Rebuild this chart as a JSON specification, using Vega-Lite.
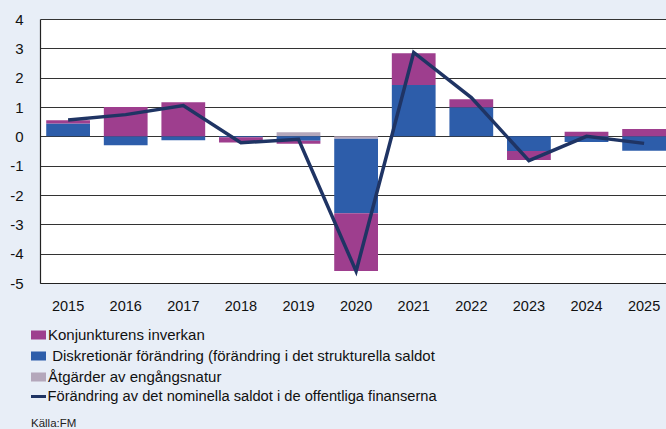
{
  "$schema": "https://vega.github.io/schema/vega-lite/v6.json",
  "width": 626,
  "height": 264,
  "autosize": {"type": "none"},
  "padding": {"left": 40, "top": 19, "right": 0, "bottom": 146},
  "background": "#E8EEF7",
  "config": {"view": {"fill": "white", "stroke": null}, "font": "Liberation Sans"},
  "title": {"text": "Källa:FM", "orient": "bottom", "anchor": "start", "frame": "group", "dx": -9, "offset": 14.5, "fontSize": 11.5, "fontWeight": "normal", "color": "#222", "baseline": "top"},
  "datasets": {
    "bars": [
      {"year": "2015", "component": "\u200b Diskretionär förändring (förändring i det strukturella saldot", "rank": 2, "value": 0.44},
      {"year": "2015", "component": "Konjunkturens inverkan", "rank": 3, "value": 0.11},
      {"year": "2016", "component": "\u200b Diskretionär förändring (förändring i det strukturella saldot", "rank": 2, "value": -0.3},
      {"year": "2016", "component": "Konjunkturens inverkan", "rank": 3, "value": 1.0},
      {"year": "2017", "component": "\u200b Diskretionär förändring (förändring i det strukturella saldot", "rank": 2, "value": -0.13},
      {"year": "2017", "component": "Konjunkturens inverkan", "rank": 3, "value": 1.16},
      {"year": "2018", "component": "\u200b Diskretionär förändring (förändring i det strukturella saldot", "rank": 2, "value": -0.03},
      {"year": "2018", "component": "Konjunkturens inverkan", "rank": 3, "value": -0.18},
      {"year": "2019", "component": "Åtgärder av engångsnatur", "rank": 1, "value": 0.14},
      {"year": "2019", "component": "\u200b Diskretionär förändring (förändring i det strukturella saldot", "rank": 2, "value": -0.15},
      {"year": "2019", "component": "Konjunkturens inverkan", "rank": 3, "value": -0.1},
      {"year": "2020", "component": "Åtgärder av engångsnatur", "rank": 1, "value": -0.08},
      {"year": "2020", "component": "\u200b Diskretionär förändring (förändring i det strukturella saldot", "rank": 2, "value": -2.54},
      {"year": "2020", "component": "Konjunkturens inverkan", "rank": 3, "value": -1.97},
      {"year": "2021", "component": "\u200b Diskretionär förändring (förändring i det strukturella saldot", "rank": 2, "value": 1.75},
      {"year": "2021", "component": "Konjunkturens inverkan", "rank": 3, "value": 1.08},
      {"year": "2022", "component": "\u200b Diskretionär förändring (förändring i det strukturella saldot", "rank": 2, "value": 0.99},
      {"year": "2022", "component": "Konjunkturens inverkan", "rank": 3, "value": 0.27},
      {"year": "2023", "component": "\u200b Diskretionär förändring (förändring i det strukturella saldot", "rank": 2, "value": -0.5},
      {"year": "2023", "component": "Konjunkturens inverkan", "rank": 3, "value": -0.31},
      {"year": "2024", "component": "\u200b Diskretionär förändring (förändring i det strukturella saldot", "rank": 2, "value": -0.19},
      {"year": "2024", "component": "Konjunkturens inverkan", "rank": 3, "value": 0.16},
      {"year": "2025", "component": "\u200b Diskretionär förändring (förändring i det strukturella saldot", "rank": 2, "value": -0.49},
      {"year": "2025", "component": "Konjunkturens inverkan", "rank": 3, "value": 0.25}
    ],
    "line": [
      {"year": "2015", "value": 0.56, "series": "Förändring av det nominella saldot i de offentliga finanserna"},
      {"year": "2016", "value": 0.74, "series": "Förändring av det nominella saldot i de offentliga finanserna"},
      {"year": "2017", "value": 1.05, "series": "Förändring av det nominella saldot i de offentliga finanserna"},
      {"year": "2018", "value": -0.22, "series": "Förändring av det nominella saldot i de offentliga finanserna"},
      {"year": "2019", "value": -0.1, "series": "Förändring av det nominella saldot i de offentliga finanserna"},
      {"year": "2020", "value": -4.6, "series": "Förändring av det nominella saldot i de offentliga finanserna"},
      {"year": "2021", "value": 2.86, "series": "Förändring av det nominella saldot i de offentliga finanserna"},
      {"year": "2022", "value": 1.32, "series": "Förändring av det nominella saldot i de offentliga finanserna"},
      {"year": "2023", "value": -0.83, "series": "Förändring av det nominella saldot i de offentliga finanserna"},
      {"year": "2024", "value": 0.0, "series": "Förändring av det nominella saldot i de offentliga finanserna"},
      {"year": "2025", "value": -0.24, "series": "Förändring av det nominella saldot i de offentliga finanserna"}
    ]
  },
  "encoding": {
    "x": {
      "field": "year", "type": "ordinal",
      "scale": {"paddingInner": 0.24, "paddingOuter": 0.054, "align": 1},
      "axis": {"title": null, "labelAngle": 0, "ticks": false, "domainColor": "#222", "domainWidth": 1.2, "labelFontSize": 14.5, "labelPadding": 16, "labelColor": "#111", "grid": false}
    },
    "y": {
      "field": "value", "type": "quantitative",
      "scale": {"domain": [-5, 4], "nice": false, "zero": false},
      "axis": {"title": null, "values": [-5, -4, -3, -2, -1, 0, 1, 2, 3, 4], "labelOverlap": false, "ticks": false, "labelPadding": 17, "labelFontSize": 15, "labelColor": "#111", "grid": true, "gridColor": "#333", "gridWidth": 1, "gridOpacity": 1, "domainColor": "#222", "domainWidth": 1.2, "labelExpr": "'' + datum.value"}
    }
  },
  "layer": [
    {
      "data": {"name": "bars"},
      "mark": {"type": "bar"},
      "encoding": {
        "y": {"field": "value", "type": "quantitative", "stack": "zero"},
        "order": {"field": "rank", "type": "quantitative"},
        "color": {
          "field": "component", "type": "nominal",
          "scale": {
            "domain": ["Konjunkturens inverkan", "\u200b Diskretionär förändring (förändring i det strukturella saldot", "Åtgärder av engångsnatur"],
            "range": ["#9E3E8E", "#2D5DAA", "#B4A7BB"]
          },
          "legend": {"orient": "none", "legendX": -9, "legendY": 308.5, "title": null, "symbolType": "M-1,-0.6H1V0.6H-1Z", "symbolSize": 225, "symbolStrokeWidth": 0, "symbolOpacity": 1, "labelFontSize": 15, "labelOffset": 2, "rowPadding": 5, "labelColor": "#111", "padding": 0, "labelLimit": 0}
        }
      }
    },
    {
      "data": {"name": "line"},
      "mark": {"type": "line", "strokeWidth": 3.5},
      "encoding": {
        "stroke": {
          "field": "series", "type": "nominal",
          "scale": {"range": ["#1F3464"]},
          "legend": {"orient": "none", "legendX": -10.5, "legendY": 368.5, "title": null, "symbolType": "stroke", "symbolSize": 225, "symbolStrokeWidth": 3, "labelFontSize": 14.7, "labelOffset": 0, "labelColor": "#111", "padding": 0, "labelLimit": 0}
        }
      }
    }
  ]
}
